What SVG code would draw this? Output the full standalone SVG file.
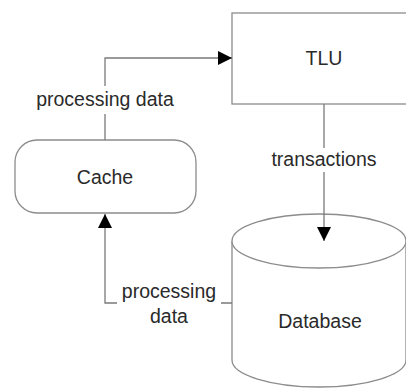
<svg xmlns="http://www.w3.org/2000/svg" width="406" height="389" viewBox="0 0 406 389">
<style>
.shape{fill:#fff;stroke:#8c8c8c;stroke-width:1.3}
.edge{fill:none;stroke:#7a7a7a;stroke-width:1.3}
.lbl{font-family:"Liberation Sans",Arial,sans-serif;font-size:19.5px;fill:#2a2a2a;text-anchor:middle}
.bg{fill:#fff}
</style>
<defs>
<marker id="arr" viewBox="0 0 10 10" refX="10" refY="5" markerWidth="14" markerHeight="14" markerUnits="userSpaceOnUse" orient="auto">
<path d="M0,0 L10,5 L0,10 Z" fill="#000"/>
</marker>
</defs>
<g id="TLU">
<rect class="shape" x="232" y="13" width="190" height="91"/>
<text class="lbl" x="324" y="65">TLU</text>
</g>
<g id="Cache">
<rect class="shape" x="15" y="140" width="181" height="73" rx="22" ry="22"/>
<text class="lbl" x="105" y="184">Cache</text>
</g>
<g id="Database">
<path class="shape" d="M232,241 L232,360 A87,27 0 0 0 406,360 L406,241"/>
<ellipse class="shape" cx="319" cy="241" rx="87" ry="27"/>
<text class="lbl" x="320" y="328">Database</text>
</g>
<g id="connectors">
<path class="edge" d="M105,140 L105,58 L232,58" marker-end="url(#arr)"/>
<path class="edge" d="M324,104 L324,241" marker-end="url(#arr)"/>
<path class="edge" d="M232,303 L105,303 L105,214" marker-end="url(#arr)"/>
<rect class="bg" x="30" y="86" width="150" height="28"/>
<text class="lbl" x="105" y="106">processing data</text>
<rect class="bg" x="266" y="148" width="116" height="24"/>
<text class="lbl" x="324" y="166">transactions</text>
<rect class="bg" x="117" y="281" width="104" height="48"/>
<text class="lbl" x="169" y="298">processing</text>
<text class="lbl" x="169" y="323">data</text>
</g>
</svg>
